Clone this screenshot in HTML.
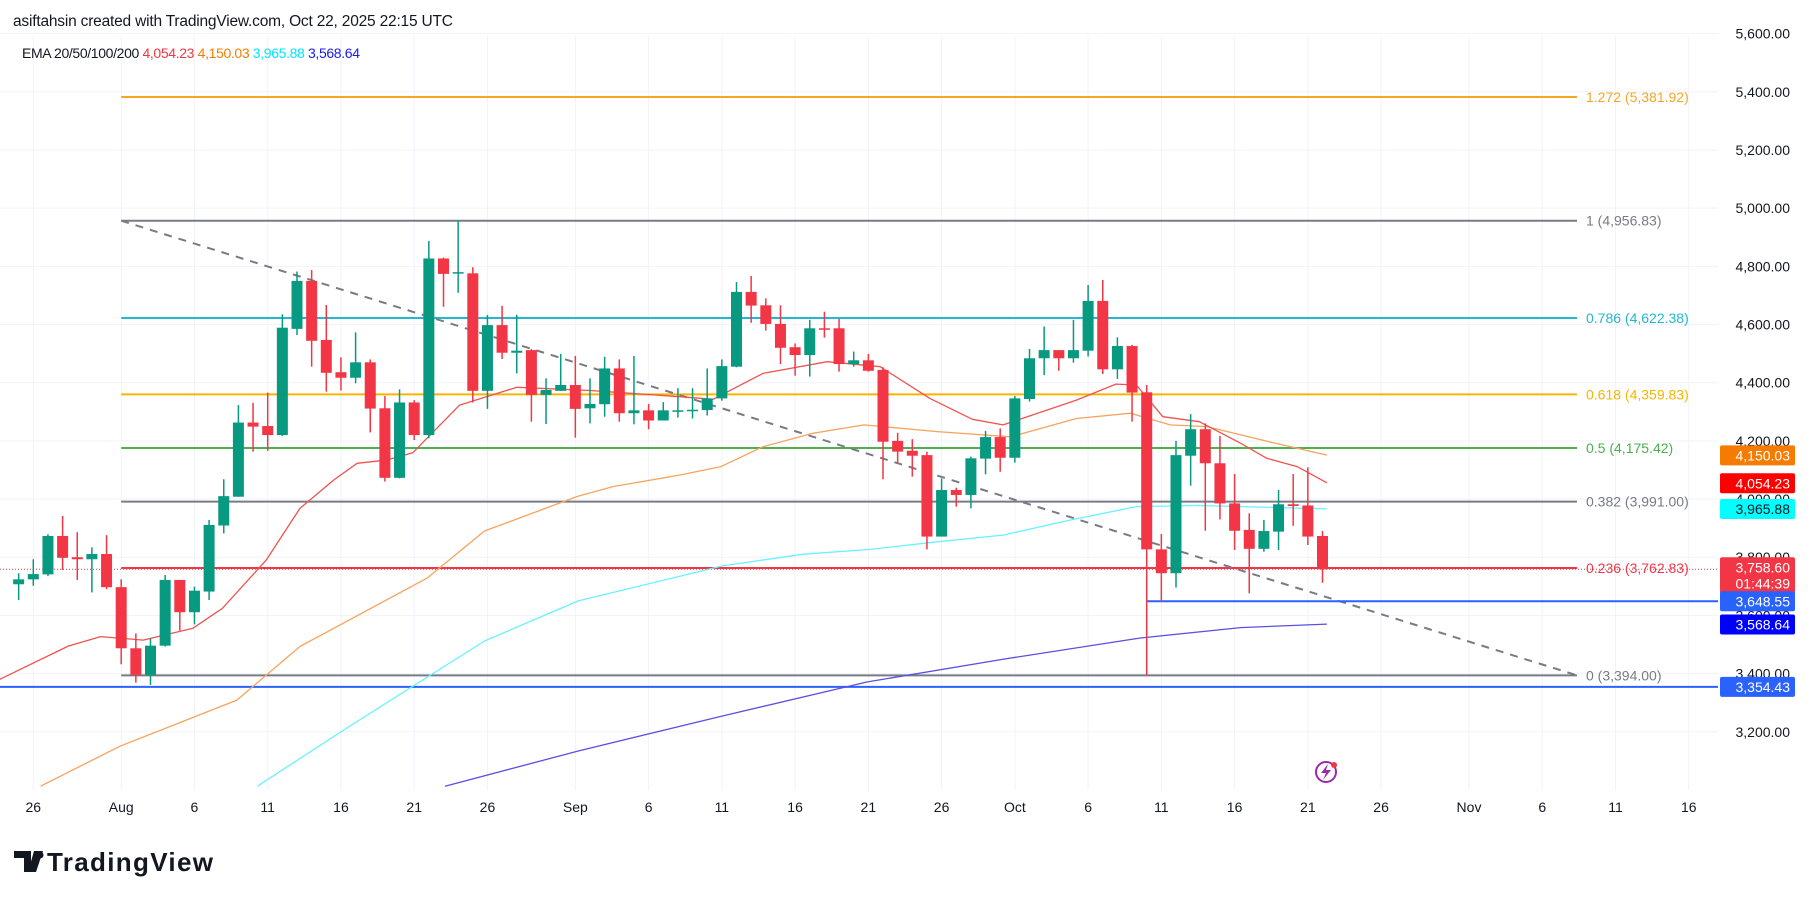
<!DOCTYPE html>
<html><head><meta charset="utf-8"><style>
body{margin:0;background:#fff;width:1814px;height:900px;overflow:hidden;font-family:"Liberation Sans",sans-serif}
svg{position:absolute;left:0;top:0}
</style></head><body>
<svg id="chart" width="1814" height="900" xmlns="http://www.w3.org/2000/svg" font-family="Liberation Sans, sans-serif">
<text x="13" y="26" font-size="15.5" fill="#131722" textLength="440">asiftahsin created with TradingView.com, Oct 22, 2025 22:15 UTC</text>
<g id="grid"></g>
<g id="fib"></g>
<g id="ema"></g>
<g id="candles"></g>
<g id="yaxis"></g>
<g id="xaxis"></g>
<g id="tags"></g>
<text x="22" y="58" font-size="14" fill="#131722" textLength="338">EMA 20/50/100/200 <tspan fill="#f23645">4,054.23</tspan> <tspan fill="#f57c00">4,150.03</tspan> <tspan fill="#00e5ff">3,965.88</tspan> <tspan fill="#1a1ae6">3,568.64</tspan></text>
<g><circle cx="1326" cy="772" r="10" fill="none" stroke="#9c27b0" stroke-width="2"/><path d="M1328 764 L1321 773 L1326 773 L1323 780 L1331 770 L1326 770 Z" fill="#9c27b0"/><circle cx="1334" cy="765" r="3" fill="#f23645"/></g>
<g><path d="M14 851 h17 v21 h-7 v-14 h-10 z M34 851 h9 l-7 21 h-8 z" fill="#131722"/><circle cx="40" cy="855" r="3.5" fill="#131722"/><text x="47" y="871" font-size="26" font-weight="bold" fill="#131722" textLength="166">TradingView</text></g>
</svg>
<script>
const opens=[3707,3724,3741,3873,3800,3793,3811,3697,3487,3395,3496,3722,3611,3682,3909,4008,4263,4251,4220,4585,4750,4547,4436,4417,4470,4312,4073,4332,4220,4827,4776,4776,4372,4598,4503,4512,4358,4372,4392,4312,4326,4449,4295,4305,4270,4302,4304,4306,4346,4455,4712,4666,4602,4522,4495,4587,4587,4464,4477,4444,4200,4166,4151,3871,4031,4014,4139,4213,4142,4344,4484,4512,4484,4510,4681,4446,4526,4367,3827,3745,4149,4240,4123,3985,3894,3829,3888,3982,3978,3873];
const highs=[3745,3793,3879,3942,3886,3834,3876,3724,3538,3521,3739,3722,3699,3928,4068,4323,4331,4366,4635,4782,4787,4667,4487,4573,4480,4354,4377,4340,4887,4830,4956,4797,4633,4664,4633,4515,4415,4499,4492,4415,4489,4480,4492,4327,4333,4381,4381,4449,4480,4746,4767,4690,4666,4535,4616,4644,4619,4507,4499,4453,4228,4206,4163,4071,4039,4146,4234,4243,4354,4516,4593,4512,4616,4736,4753,4556,4530,4392,3880,4200,4292,4260,4217,4086,3951,3928,4031,4086,4109,3890];
const lows=[3653,3702,3735,3756,3722,3679,3690,3432,3369,3361,3493,3548,3569,3653,3882,4008,4163,4166,4217,4564,4455,4369,4373,4398,4229,4060,4071,4203,4209,4661,4709,4332,4310,4481,4432,4266,4258,4372,4211,4260,4283,4266,4257,4240,4270,4280,4277,4287,4338,4453,4606,4579,4464,4424,4421,4555,4438,4455,4438,4068,4123,4077,3827,3871,3974,3968,4085,4094,4125,4335,4426,4441,4469,4490,4430,4413,4266,3394,3647,3696,4046,3891,3930,3825,3676,3819,3825,3908,3842,3712];
const closes=[3724,3742,3873,3798,3793,3811,3697,3487,3395,3496,3722,3611,3685,3911,4010,4263,4249,4220,4589,4750,4544,4434,4417,4470,4311,4073,4332,4220,4827,4774,4780,4372,4598,4503,4510,4358,4375,4392,4310,4327,4449,4295,4305,4270,4305,4305,4307,4346,4457,4712,4665,4602,4520,4495,4587,4585,4464,4477,4441,4197,4163,4149,3871,4031,4014,4140,4213,4142,4346,4484,4512,4484,4512,4681,4446,4526,4366,3827,3745,4151,4240,4123,3985,3891,3829,3890,3982,3976,3871,3758.6];
const firstDay=-1;
const ema20Days=[-2.3,2.4,4.6,7.5,10.9,12.9,15.9,18.2,20.5,22.1,24.1,25.9,29.1,33,38,44.1,46.4,49.8,54.2,57.8,61.2,64.1,66.2,71.2,73.9,75.3,77.1,79.6,82.4,84.2,86.3,88.3];
const ema20Vals=[3380,3495,3527,3515,3556,3624,3790,3968,4065,4123,4134,4159,4323,4384,4373,4352,4343,4432,4472,4455,4346,4274,4255,4340,4395,4392,4283,4266,4192,4140,4111,4056];
const ema50Days=[0.5,5.9,13.9,18.2,26.9,30.8,37.2,39.6,44.2,46.9,49.8,53.2,56.7,61.7,66.7,71.2,74.9,77.6,80.1,84.6,88.3];
const ema50Vals=[3013,3150,3309,3493,3729,3890,4010,4043,4083,4111,4180,4226,4255,4232,4214,4277,4295,4255,4249,4194,4151];
const ema100Days=[15.3,21.4,30.8,37.2,47,52.5,57.1,61.7,66.2,70.8,75.3,79.6,88.3];
const ema100Vals=[3013,3213,3512,3650,3770,3810,3827,3853,3876,3928,3974,3978,3966];
const ema200Days=[28.1,37.2,47,56.9,66.3,75.5,82.4,88.3];
const ema200Vals=[3013,3134,3254,3371,3450,3522,3558,3570];
const fibRatios=["1.272","1","0.786","0.618","0.5","0.382","0.236","0"];
const fibPrices=[5381.92,4956.83,4622.38,4359.83,4175.42,3991.00,3762.83,3394.00];
const fibColors=["#f5a623","#787b86","#22b8cf","#f7b500","#4caf50","#787b86","#f23645","#787b86"];
const priceTicks=[5600,5400,5200,5000,4800,4600,4400,4200,4000,3800,3600,3400,3200];
const timeLabels=["26","Aug","6","11","16","21","26","Sep","6","11","16","21","26","Oct","6","11","16","21","26","Nov","6","11","16"];
const timeDays=[0,6,11,16,21,26,31,37,42,47,52,57,62,67,72,77,82,87,92,98,103,108,113];
const tagLabels=["4,150.03","4,054.23","3,965.88","3,758.60","3,648.55","3,568.64","3,354.43"];
const tagPrices=[4150.03,4054.23,3965.88,3758.60,3648.55,3568.64,3354.43];
const tagColors=["#f57c00","#ff0000","#00ffff","#f23645","#2962ff","#0000ff","#2962ff"];
const tagText=["#fff","#fff","#131722","#fff","#fff","#fff","#fff"];

const NS="http://www.w3.org/2000/svg";
const PL=0,PR=1718,PT=36,PB=790;
function y(p){return 318+(4622.38-p)*0.2909;}
function x(d){return 33.3+d*14.65;}
function mk(tag,attrs,parent){const e=document.createElementNS(NS,tag);for(const k in attrs)e.setAttribute(k,attrs[k]);parent.appendChild(e);return e;}
const grid=document.getElementById('grid'),fib=document.getElementById('fib'),ema=document.getElementById('ema'),cg=document.getElementById('candles'),ya=document.getElementById('yaxis'),xa=document.getElementById('xaxis'),tg=document.getElementById('tags');
const defs=mk('defs',{},document.getElementById('chart'));
const cp=mk('clipPath',{id:'plot'},defs);mk('rect',{x:PL,y:PT,width:PR-PL,height:PB-PT},cp);
ema.setAttribute('clip-path','url(#plot)');
priceTicks.forEach((p,i)=>{
  const l=mk('line',{x1:PL,x2:PR,y1:y(p),y2:y(p),stroke:'#f0f3fa','stroke-width':1},grid);
  
  
  const t=mk('text',{x:1790,y:y(p)+5,'font-size':14,fill:'#131722','text-anchor':'end'},ya);
  t.textContent=p.toLocaleString('en-US',{minimumFractionDigits:2});
  
  
});
timeLabels.forEach((s,i)=>{
  const l=mk('line',{x1:x(timeDays[i]),x2:x(timeDays[i]),y1:PT,y2:PB,stroke:'#f0f3fa','stroke-width':1},grid);
  
  
  const t=mk('text',{x:x(timeDays[i]),y:812,'font-size':14,fill:'#131722','text-anchor':'middle'},xa);
  t.textContent=s;
  
  
});
const fx1=x(6),fx2=1577;
fibPrices.forEach((p,i)=>{
  const l=mk('line',{x1:fx1,x2:fx2,y1:y(p),y2:y(p),stroke:fibColors[i],'stroke-width':2},fib);
  
  
  const t=mk('text',{x:1586,y:y(p)+5,'font-size':14,fill:fibColors[i]},fib);
  t.textContent=fibRatios[i]+' ('+p.toLocaleString('en-US',{minimumFractionDigits:2})+')';
  
  
});
const tl=mk('line',{x1:fx1,y1:y(fibPrices[1]),x2:fx2,y2:y(fibPrices[7]),stroke:'#787b86','stroke-width':2,'stroke-dasharray':'8 7'},fib);


const h1=mk('line',{x1:0,x2:PR,y1:y(3354.43),y2:y(3354.43),stroke:'#2962ff','stroke-width':2},fib);


const h2=mk('line',{x1:x(76),x2:PR,y1:y(3648.55),y2:y(3648.55),stroke:'#2962ff','stroke-width':2},fib);


const cur=closes[closes.length-1];
const h3=mk('line',{x1:0,x2:PR,y1:y(cur),y2:y(cur),stroke:'#f23645','stroke-width':1,'stroke-dasharray':'1 2'},fib);


function emaLine(days,vals,color,name){
  const pts=days.map((d,i)=>x(d).toFixed(1)+','+y(vals[i]).toFixed(1)).join(' ');
  const pl=mk('polyline',{points:pts,fill:'none',stroke:color,'stroke-width':1.3,'stroke-linejoin':'round'},ema);
  
  
}
emaLine(ema200Days,ema200Vals,'#5b4fe0','ema-200-line');
emaLine(ema100Days,ema100Vals,'#66f2ff','ema-100-line');
emaLine(ema50Days,ema50Vals,'#f7a35c','ema-50-line');
emaLine(ema20Days,ema20Vals,'#ef5350','ema-20-line');
opens.forEach((o,i)=>{
  const c=closes[i],d=firstDay+i,cx=x(d),up=c>=o,col=up?'#089981':'#f23645';
  const g=mk('g',{},cg);
  
  
  mk('line',{x1:cx,x2:cx,y1:y(highs[i]),y2:y(lows[i]),stroke:col,'stroke-width':1.5},g);
  const top=y(Math.max(o,c)),bot=y(Math.min(o,c));
  mk('rect',{x:cx-5.5,y:top,width:11,height:Math.max(bot-top,1.5),fill:col},g);
});
tagPrices.forEach((p,i)=>{
  const g=mk('g',{},tg);
  
  
  const isCur=i===3,h=isCur?36:20,top=isCur?y(p)-12:y(p)-10;
  mk('rect',{x:1720,y:top,width:75,height:h,rx:2,fill:tagColors[i]},g);
  const t=mk('text',{x:1790,y:top+15,'font-size':14,fill:tagText[i],'text-anchor':'end'},g);
  t.textContent=tagLabels[i];
  if(isCur){const t2=mk('text',{x:1790,y:top+31,'font-size':14,fill:'#fff','text-anchor':'end'},g);t2.textContent='01:44:39';}
});
</script>
</body></html>
